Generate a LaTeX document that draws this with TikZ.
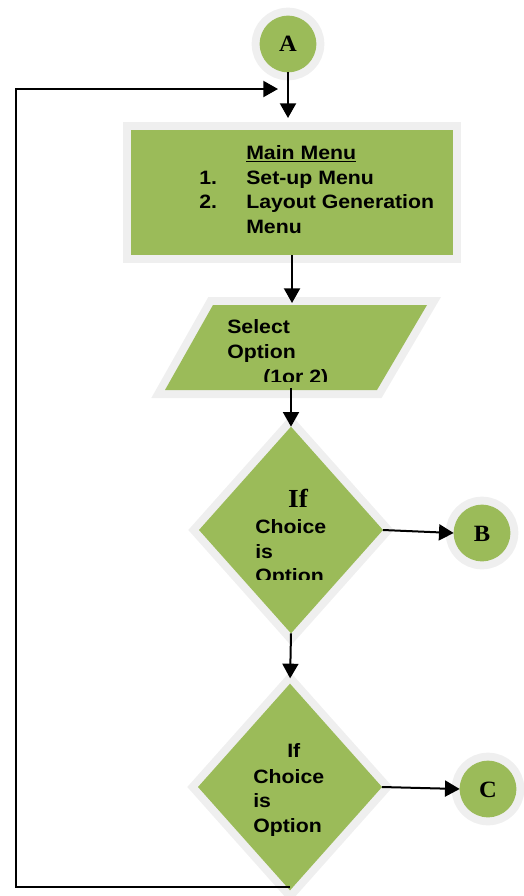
\documentclass[tikz,border=0pt]{standalone}
\usepackage{fontspec}
\setmainfont{Liberation Sans}[FakeStretch=1.1]
\newfontfamily\serifb{Liberation Serif}[FakeStretch=1.05]
\usetikzlibrary{shapes.geometric,arrows.meta}
\definecolor{leaf}{HTML}{9BBB59}
\definecolor{rim}{HTML}{EFEFEF}
\tikzset{
  x=0.75pt, y=-0.75pt,
  shapebox/.style={fill=leaf, draw=none, outer sep=0pt, inner sep=0pt,
    preaction={draw=rim, line width=12pt, line join=miter}},
  connbox/.style={circle, shapebox, minimum size=42.5pt},
  menubox/.style={rectangle, shapebox, minimum width=241.5pt, minimum height=93.75pt},
  decbox/.style={diamond, shapebox, minimum width=138pt, minimum height=155pt},
  txt/.style={anchor=base west, inner sep=0pt, font=\fontsize{14.5pt}{18pt}\selectfont\bfseries},
  lettr/.style={inner sep=0pt, font=\serifb\fontsize{17.5pt}{20pt}\selectfont\bfseries},
  flow/.style={line width=1.5pt, -{Triangle[length=11pt,width=12pt]}}
}
\begin{document}
\begin{tikzpicture}
\useasboundingbox (0,0) rectangle (524,896);
% shapes
\node[connbox] (A) at (288,44) {};
\node[lettr] (Alab) at (288,44) {A};
\node[menubox] (menu) at (292,192.5) {};
\filldraw[rim, line width=12pt, line join=miter] (213,305) -- (427,305) -- (377,390) -- (165,390) -- cycle;
\fill[leaf] (213,305) -- (427,305) -- (377,390) -- (165,390) -- cycle;
\coordinate (ptop) at (292,303);
\coordinate (pbot) at (291,388);
\node[decbox] (d1) at (291,530) {};
\node[connbox] (B) at (482,533) {};
\node[lettr] (Blab) at (482,534) {B};
\node[decbox] (d2) at (290,787) {};
\node[connbox] (C) at (488,789) {};
\node[lettr] (Clab) at (488,790) {C};
% texts
\node[txt] (t1) at (246,159) {\underline{Main Menu}};
\node[txt] (t2) at (199,184) {1.};
\node[txt] (t3) at (246,184) {Set-up Menu};
\node[txt] (t4) at (199,208) {2.};
\node[txt] (t5) at (246,208) {Layout Generation};
\node[txt] (t6) at (246,233) {Menu};
\node[txt] (p1) at (227,333) {Select};
\node[txt] (p2) at (227,358) {Option};
\begin{scope}
\clip (200,360) rectangle (380,381);
\node[txt] (p3) at (263,383) {(1or 2)};
\end{scope}
\node[lettr, anchor=base, font=\serifb\fontsize{19.5pt}{20pt}\selectfont\bfseries] (q1) at (298,507) {If};
\node[txt] (q2) at (255,533) {Choice};
\node[txt] (q3) at (255,558) {is};
\begin{scope}
\clip (240,560) rectangle (340,579);
\node[txt] (q4) at (255,582) {Option};
\end{scope}
\node[txt] (r1) at (287,757) {If};
\node[txt] (r2) at (253,783) {Choice};
\node[txt] (r3) at (253,807) {is};
\node[txt] (r4) at (253,832) {Option};
% connectors
\coordinate (lp) at (16,89);
\draw[flow, shorten >=9pt] (A.south) -- (A.south |- menu.north);
\draw[flow] (menu.south) -- (ptop);
\draw[flow] (pbot) -- (d1.north);
\draw[flow] (d1.east) -- (B.west);
\draw[flow, shorten >=4pt] (d1.south) -- (d2.north);
\draw[flow] (d2.east) -- (C.west);
\draw[flow, shorten >=7.5pt] ([yshift=2.25pt]d2.south) -| (lp) -- (A.south |- lp);
\end{tikzpicture}
\end{document}
